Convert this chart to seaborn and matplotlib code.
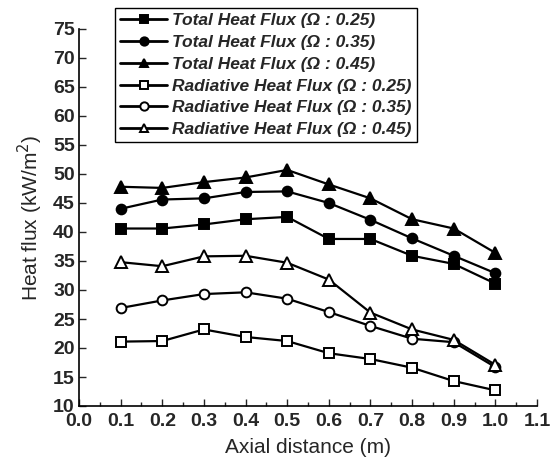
import matplotlib
matplotlib.use("Agg")
import matplotlib.pyplot as plt
import seaborn as sns
import pandas as pd
from matplotlib.ticker import MultipleLocator

x = [0.1, 0.2, 0.3, 0.4, 0.5, 0.6, 0.7, 0.8, 0.9, 1.0]
total_025 = [40.6, 40.6, 41.3, 42.2, 42.6, 38.8, 38.8, 35.9, 34.5, 31.1]
total_035 = [44.0, 45.6, 45.8, 46.9, 47.0, 45.0, 42.1, 38.9, 35.9, 32.9]
total_045 = [47.8, 47.6, 48.6, 49.4, 50.7, 48.2, 45.8, 42.2, 40.6, 36.4]
rad_025 = [21.1, 21.2, 23.2, 21.9, 21.2, 19.1, 18.1, 16.6, 14.3, 12.7]
rad_035 = [26.9, 28.2, 29.3, 29.6, 28.5, 26.2, 23.8, 21.6, 21.0, 16.7]
rad_045 = [34.8, 34.1, 35.8, 35.9, 34.7, 31.8, 26.1, 23.2, 21.4, 17.1]

labels = ["Total Heat Flux (\u03a9 : 0.25)",
          "Total Heat Flux (\u03a9 : 0.35)",
          "Total Heat Flux (\u03a9 : 0.45)",
          "Radiative Heat Flux (\u03a9 : 0.25)",
          "Radiative Heat Flux (\u03a9 : 0.35)",
          "Radiative Heat Flux (\u03a9 : 0.45)"]
series = [total_025, total_035, total_045, rad_025, rad_035, rad_045]
markers = ["s", "o", "^", "s", "o", "^"]
filled = [True, True, True, False, False, False]

sns.set_style("white")
plt.rcParams["font.family"] = ["Liberation Sans", "DejaVu Sans"]

fig = plt.figure(figsize=(5.6, 4.66), dpi=100)
ax = fig.add_axes([79/560, 1-406/466, (537-79)/560, (406-29)/466])

for lab, ys, m, f in zip(labels, series, markers, filled):
    df = pd.DataFrame({"x": x, "y": ys})
    sns.lineplot(data=df, x="x", y="y", ax=ax, color="black", lw=1.6,
                 marker=m, markersize=7 if m != "^" else 8,
                 markerfacecolor="black" if f else "white",
                 markeredgecolor="black", markeredgewidth=1.4,
                 label=lab)

ax.set_xlim(0.0, 1.1)
ax.set_ylim(10, 75)
ax.xaxis.set_minor_locator(MultipleLocator(0.05))
ax.yaxis.set_major_locator(MultipleLocator(5))
ax.set_xticks([round(0.1*i, 1) for i in range(12)])
ax.set_xticklabels([f"{0.1*i:.1f}" for i in range(12)])
ax.tick_params(axis="both", which="major", direction="in", length=5, width=1,
               labelsize=14, pad=3, bottom=True, left=True)
ax.tick_params(axis="x", which="major", pad=5)
ax.tick_params(axis="x", which="minor", direction="in", length=3, width=1, bottom=True)
for t in ax.get_xticklabels() + ax.get_yticklabels():
    t.set_fontweight("bold")

for s in ["top", "right"]:
    ax.spines[s].set_visible(False)
for s in ["left", "bottom"]:
    ax.spines[s].set_color("black")
    ax.spines[s].set_linewidth(1.2)

ax.set_xlabel("Axial distance (m)", fontsize=15, labelpad=6)
ax.set_ylabel("Heat flux (kW/m$^2$)", fontsize=15, labelpad=6)

leg = ax.legend(loc="upper left", bbox_to_anchor=(115/560, 1-8/466),
                bbox_transform=fig.transFigure, frameon=True, fancybox=False,
                edgecolor="black", framealpha=1,
                prop={"weight": "bold", "style": "italic", "size": 12.5},
                handlelength=2.7, handletextpad=0.3, labelspacing=0.38,
                borderpad=0.3, borderaxespad=0)
leg.get_frame().set_linewidth(1.0)
for h in leg.legend_handles:
    h.set_markersize(6)
    h.set_linewidth(2.0)

fig.savefig("out.png", dpi=100)
